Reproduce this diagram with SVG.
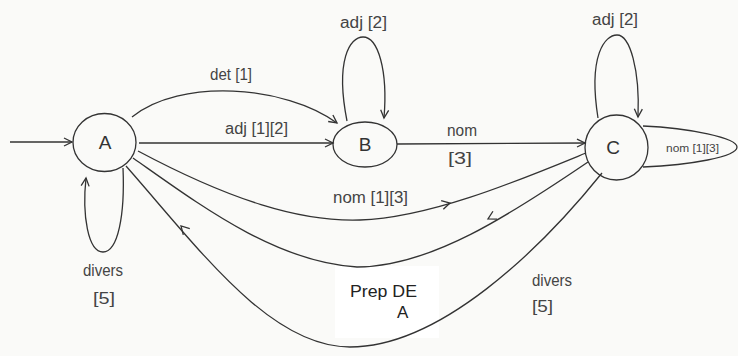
<svg xmlns="http://www.w3.org/2000/svg" width="738" height="356" viewBox="0 0 738 356">
  <defs>
    <marker id="arr" markerUnits="userSpaceOnUse" markerWidth="12" markerHeight="12" refX="9" refY="5" orient="auto">
      <path d="M1,1 L9,5 L1,9" fill="none" stroke="#333" stroke-width="1.3"/>
    </marker>
  </defs>
  <style>
    .edge { fill: none; stroke: #333; stroke-width: 1.3; }
    .head { fill: none; stroke: #333; stroke-width: 1.3; }
    .state { fill: none; stroke: #333; stroke-width: 1.3; }
    .sname { font-family: "Liberation Sans", Arial, sans-serif; font-size: 19px; fill: #333; text-anchor: middle; }
    .lbl { font-family: "Liberation Sans", Arial, sans-serif; font-size: 16px; fill: #444; }
    .small { font-family: "Liberation Sans", Arial, sans-serif; font-size: 11px; fill: #444; }
    .plain { font-family: "Liberation Sans", Arial, sans-serif; font-size: 17px; fill: #222; }
  </style>

  <rect width="738" height="356" fill="#fafaf8"/>
  <rect x="335" y="266" width="104" height="72" fill="#ffffff"/>

  <g id="connectors">
    <!-- entry arrow -->
    <path class="edge" d="M10,142 L72,142" marker-end="url(#arr)"/>
    <!-- A -> B : det [1] -->
    <path class="edge" d="M132,117 C 180,78 285,85 337,123" marker-end="url(#arr)"/>
    <!-- A -> B : adj [1][2] -->
    <path class="edge" d="M139,143 L333,143" marker-end="url(#arr)"/>
    <!-- B loop : adj [2] -->
    <path class="edge" d="M347,121 C 335,60 350,37 363,37 C 378,37 388,70 384,118" marker-end="url(#arr)"/>
    <!-- B -> C : nom [3] -->
    <path class="edge" d="M397,144 L585,143" marker-end="url(#arr)"/>
    <!-- C loop : adj [2] -->
    <path class="edge" d="M598,118 C 588,55 605,35 617,35 C 630,35 640,70 638,117" marker-end="url(#arr)"/>
    <!-- C loop : nom [1][3] -->
    <path class="edge" d="M643,126 C 690,128 737,138 737,147 C 737,157 690,165 643,167"/>
    <!-- A loop : divers [5] -->
    <path class="edge" d="M123,168 C 125,215 118,252 103,252 C 88,252 82,215 86,178" marker-end="url(#arr)"/>
    <!-- A -> C : nom [1][3] -->
    <path class="edge" d="M138,151 C 230,200 300,222 360,220 C 430,218 520,180 586,153"/>
    <path class="head" d="M-8,-4.5 L0,0 L-8,4.5" transform="translate(450,203) rotate(-14)"/>
    <!-- C -> A : Prep DE A -->
    <path class="edge" d="M133,158 C 200,205 275,262 357,267 C 430,267 510,215 588,162"/>
    <path class="head" d="M-8,-4.5 L0,0 L-8,4.5" transform="translate(488,219) rotate(152)"/>
    <!-- C -> A : divers [5] -->
    <path class="edge" d="M126,166 C 200,250 270,347 350,347 C 440,347 540,250 602,173"/>
    <path class="head" d="M-8,-4.5 L0,0 L-8,4.5" transform="translate(181,226) rotate(-134)"/>
  </g>

  <g id="node-A">
    <ellipse class="state" cx="104.5" cy="142.5" rx="31.5" ry="29"/>
    <text class="sname" x="105" y="149">A</text>
  </g>
  <g id="node-B">
    <ellipse class="state" cx="365" cy="144.5" rx="32" ry="22.5"/>
    <text class="sname" x="365" y="151">B</text>
  </g>
  <g id="node-C">
    <ellipse class="state" cx="616.5" cy="147.5" rx="31.5" ry="32.5"/>
    <text class="sname" x="613" y="154">C</text>
  </g>

  <g id="labels">
    <text class="lbl" x="210" y="80" textLength="42" lengthAdjust="spacingAndGlyphs">det [1]</text>
    <text class="lbl" x="225" y="134" textLength="63" lengthAdjust="spacingAndGlyphs">adj [1][2]</text>
    <text class="lbl" x="340" y="28" textLength="47" lengthAdjust="spacingAndGlyphs">adj [2]</text>
    <text class="lbl" x="592" y="25" textLength="46" lengthAdjust="spacingAndGlyphs">adj [2]</text>
    <text class="lbl" x="447" y="136" textLength="30" lengthAdjust="spacingAndGlyphs">nom</text>
    <text class="lbl" x="448" y="164" textLength="24" lengthAdjust="spacingAndGlyphs">[3]</text>
    <text class="small" x="666" y="152" textLength="53" lengthAdjust="spacingAndGlyphs">nom [1][3]</text>
    <text class="lbl" x="333" y="203" textLength="75" lengthAdjust="spacingAndGlyphs">nom [1][3]</text>
    <text class="lbl" x="83" y="276" textLength="40" lengthAdjust="spacingAndGlyphs">divers</text>
    <text class="lbl" x="93" y="304" textLength="22" lengthAdjust="spacingAndGlyphs">[5]</text>
    <text class="lbl" x="532" y="286" textLength="40" lengthAdjust="spacingAndGlyphs">divers</text>
    <text class="lbl" x="532" y="312" textLength="21" lengthAdjust="spacingAndGlyphs">[5]</text>
    <text class="plain" x="350" y="297" textLength="67" lengthAdjust="spacingAndGlyphs">Prep DE</text>
    <text class="plain" x="397" y="318">A</text>
  </g>
</svg>
